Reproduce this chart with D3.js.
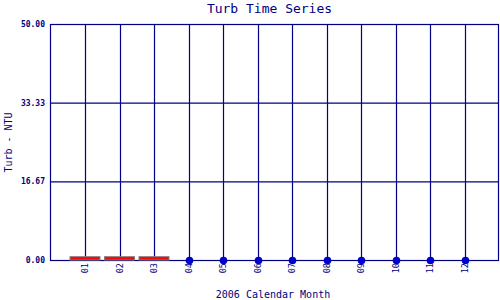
<!DOCTYPE html>
<html>
<head>
<meta charset="utf-8">
<script src="https://cdn.jsdelivr.net/npm/d3@7"></script>
<style>
  body { margin: 0; background: #fff; }
  text { font-family: "DejaVu Sans Mono", monospace; fill: #000080; }
</style>
</head>
<body>
<svg id="chart" width="500" height="300"></svg>
<script>
// data
var months = ["01", "02", "03", "04", "05", "06", "07", "08", "09", "10", "11", "12"];
var barMonths = [1, 2, 3];          // months shown as red range bars
var barTops = [0.7, 0.7, 0.7];
var dotMonths = [4, 5, 6, 7, 8, 9, 10, 11, 12];
var dotValues = [0, 0, 0, 0, 0, 0, 0, 0, 0];
var yTicks = [0, 16.67, 33.33, 50];

var navy = "#000080";
var svg = d3.select("#chart");

var x = d3.scaleLinear().domain([0, 13]).range([50.5, 499]);
var y = d3.scaleLinear().domain([0, 50]).range([260, 24]);

// title
svg.append("text")
    .attr("x", 269.5).attr("y", 12.5)
    .attr("text-anchor", "middle")
    .style("font-size", "13px")
    .text("Turb Time Series");

// vertical grid lines at each month
svg.append("g").selectAll("line")
    .data(months)
    .enter().append("line")
    .attr("x1", function(d, i) { return Math.round(x(i + 1)) + 0.5; })
    .attr("x2", function(d, i) { return Math.round(x(i + 1)) + 0.5; })
    .attr("y1", y(50)).attr("y2", y(0))
    .attr("stroke", navy).attr("stroke-width", 1.2);

// horizontal grid + y labels
var yAxis = d3.axisLeft(y)
    .tickValues(yTicks)
    .tickSize(-(499 - 50))
    .tickFormat(d3.format(".2f"));
var yg = svg.append("g")
    .attr("transform", "translate(50,0)")
    .call(yAxis);
yg.select(".domain").remove();
yg.selectAll("line").attr("stroke", navy).attr("stroke-width", 1.2);
yg.selectAll("text")
    .attr("x", -5)
    .style("font-size", "8px")
    .style("font-weight", "bold")
    .style("font-family", "'DejaVu Sans Mono', monospace")
    .style("fill", navy);

// frame
svg.append("rect")
    .attr("x", 50.5).attr("y", 24.5)
    .attr("width", 498.5 - 50.5).attr("height", 260 - 24)
    .attr("fill", "none")
    .attr("stroke", navy).attr("stroke-width", 1.2);

// x tick labels (rotated)
svg.append("g").selectAll("text")
    .data(months)
    .enter().append("text")
    .attr("transform", function(d, i) {
        return "translate(" + (x(i + 1) + 3) + ",263) rotate(-90)";
    })
    .attr("text-anchor", "end")
    .style("font-size", "8.5px")
    .text(function(d) { return d; });

// red range bars
svg.append("g").selectAll("rect")
    .data(barMonths)
    .enter().append("rect")
    .attr("x", function(d) { return x(d) - 15; })
    .attr("y", function(d, i) { return y(barTops[i]); })
    .attr("width", 30)
    .attr("height", function(d, i) { return y(0) - y(barTops[i]); })
    .attr("fill", "#ff0000")
    .attr("stroke", "#808080")
    .attr("stroke-width", 1);

// blue dots
svg.append("g").selectAll("circle")
    .data(dotMonths)
    .enter().append("circle")
    .attr("cx", function(d) { return Math.round(x(d)) + 0.5; })
    .attr("cy", function(d, i) { return y(dotValues[i]) + 0.5; })
    .attr("r", 3.8)
    .attr("fill", "#0000cc");

// axis titles
svg.append("text")
    .attr("x", 273).attr("y", 297.5)
    .attr("text-anchor", "middle")
    .style("font-size", "10px")
    .text("2006 Calendar Month");

svg.append("text")
    .attr("transform", "translate(11.5,142.5) rotate(-90)")
    .attr("text-anchor", "middle")
    .style("font-size", "10px")
    .text("Turb - NTU");
</script>
</body>
</html>
